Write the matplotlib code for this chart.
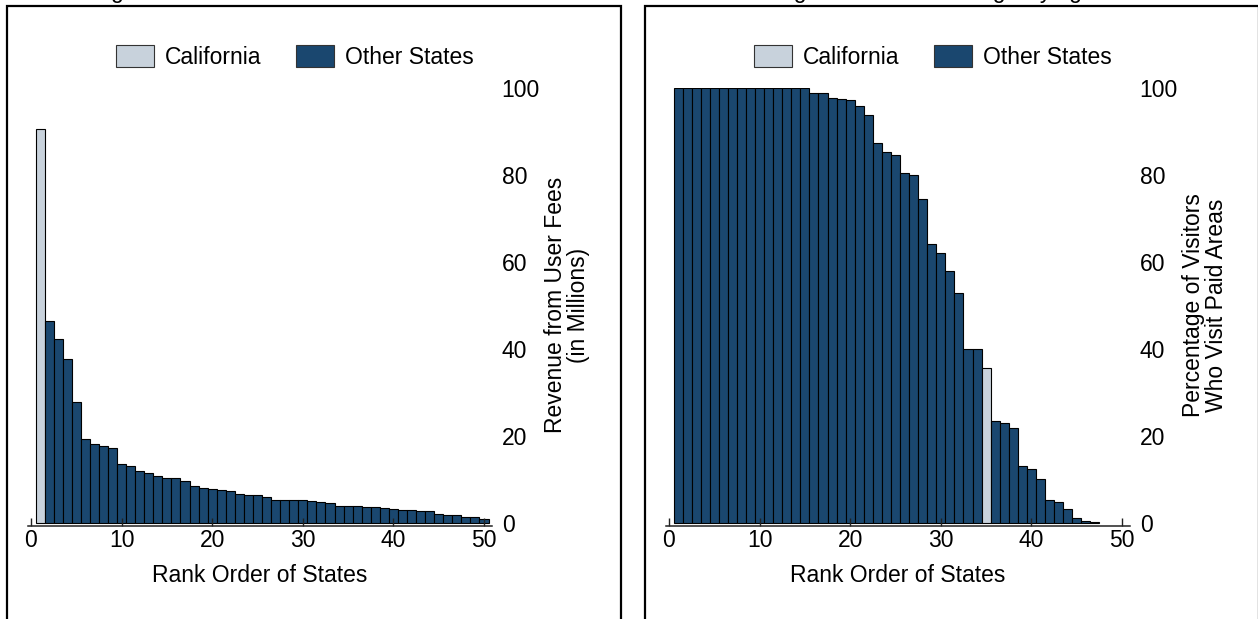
import matplotlib
matplotlib.use("Agg")
import matplotlib.pyplot as plt
from matplotlib.patches import Rectangle, Patch

plt.rcParams['font.family'] = ['Liberation Sans', 'DejaVu Sans']

# ---- data ----
ranks_rev = list(range(1, 51))
revenue = [90.5, 46.5, 42.4, 37.6, 27.9, 19.3, 18.1, 17.6, 17.2, 13.5,
           13.1, 11.9, 11.5, 10.7, 10.4, 10.3, 9.7, 8.5, 8.0, 7.9,
           7.5, 7.4, 6.7, 6.4, 6.4, 6.0, 5.4, 5.4, 5.35, 5.3,
           5.1, 4.75, 4.5, 4.0, 3.85, 3.85, 3.7, 3.6, 3.5, 3.3,
           3.0, 2.9, 2.75, 2.7, 2.05, 1.85, 1.75, 1.4, 1.4, 1.0]
ca_rank_rev = 1

ranks_pct = list(range(1, 48))
pct_paid = [100, 100, 100, 100, 100, 100, 100, 100, 100, 100,
            100, 100, 100, 100, 100, 98.9, 98.8, 97.6, 97.4, 97.3,
            95.8, 93.9, 87.4, 85.2, 84.5, 80.5, 80.0, 74.5, 64.1, 62.0,
            58.0, 52.9, 40.1, 39.9, 35.7, 23.5, 22.9, 21.9, 13.1, 12.3,
            10.0, 5.2, 4.75, 3.3, 1.2, 0.46, 0.23]
ca_rank_pct = 35

xticks = [0, 10, 20, 30, 40, 50]
yticks = [0, 20, 40, 60, 80, 100]
legend_labels = ["California", "Other States"]
xlabel = "Rank Order of States"
ylabels = ["Revenue from User Fees\n(in Millions)",
           "Percentage of Visitors\nWho Visit Paid Areas"]
titles = ["Figure 1. Revenue from User Fees",
          "Percentage of Visitors Visiting Paying Areas"]

NAVY = "#1a476f"
LIGHT = "#c8d2dc"
FS = 16.5

W, H = 1258, 619
fig = plt.figure(figsize=(W / 100, H / 100), dpi=100)


def fx(px):
    return px / W


def fy(py):
    return 1 - py / H


panels = [
    (0, ranks_rev, revenue, ca_rank_rev),
    (638, ranks_pct, pct_paid, ca_rank_pct),
]

for i, (off, ranks, vals, ca) in enumerate(panels):
    # panel frame
    fig.patches.append(Rectangle((fx(7 + off), fy(640)), fx(614), fy(6) - fy(640),
                                 transform=fig.transFigure, fill=False,
                                 edgecolor='black', linewidth=1.6, zorder=0))
    # title (mostly cut off at the top, as in the reference)
    tx = 92 if i == 0 else 702
    fig.text(fx(tx), 1 + 1.5 / H, titles[i], ha='left', va='baseline', fontsize=FS)

    ax = fig.add_axes([fx(28 + off), fy(526), fx(464), (526 - 88) / H])
    colors = [LIGHT if r == ca else NAVY for r in ranks]
    ax.bar(ranks, vals, width=1.0, color=colors, edgecolor='black', linewidth=0.8)
    ax.set_xlim(-0.33, 50.88)
    ax.set_ylim(-0.69, 100)
    for s in ['top', 'left', 'right']:
        ax.spines[s].set_visible(False)
    ax.spines['bottom'].set_linewidth(1.1)
    ax.spines['bottom'].set_color('#222222')
    ax.set_xticks(xticks)
    ax.set_xticklabels([str(t) for t in xticks], fontsize=FS)
    ax.tick_params(axis='x', direction='in', length=6, width=1.0, pad=2, color='#222222')
    ax.yaxis.tick_right()
    ax.set_yticks(yticks)
    ax.set_yticklabels([str(t) for t in yticks], fontsize=FS)
    ax.tick_params(axis='y', length=0, pad=7.0)

    fig.text(fx(260 + off), fy(575), xlabel, ha='center', va='center', fontsize=FS)
    fig.text(fx(567 + off), fy(305), ylabels[i], ha='center', va='center',
             rotation=90, fontsize=FS, multialignment='center', linespacing=1.05)

    handles = [Patch(facecolor=LIGHT, edgecolor='#333333', linewidth=0.8),
               Patch(facecolor=NAVY, edgecolor='#333333', linewidth=0.8)]
    fig.legend(handles, legend_labels, loc='center',
               bbox_to_anchor=(fx(295 + off), fy(57)), ncol=2, frameon=False,
               fontsize=FS, handlelength=1.65, handleheight=1.05,
               handletextpad=0.5, columnspacing=1.5, borderaxespad=0, borderpad=0)

fig.savefig("out.png", dpi=100)
